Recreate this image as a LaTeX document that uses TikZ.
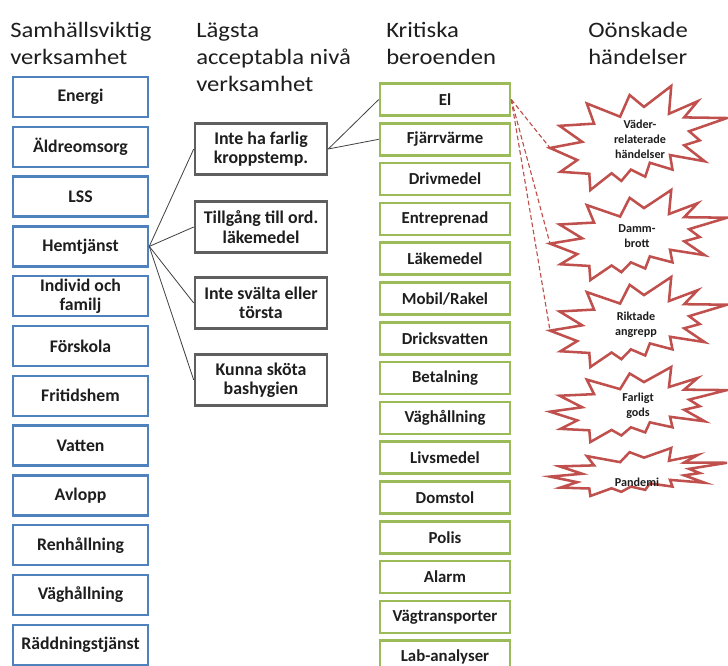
\documentclass[tikz,border=0pt]{standalone}
\usepackage{fontspec}
\setmainfont{Carlito}
\newfontfamily\headfont[FakeStretch=1.12]{Carlito}
\definecolor{boxblue}{RGB}{79,129,189}
\definecolor{boxgreen}{RGB}{155,187,89}
\definecolor{boxgray}{RGB}{95,95,95}
\definecolor{starred}{RGB}{192,80,77}
\definecolor{inktext}{RGB}{30,30,30}
\tikzset{
  headtext/.style={anchor=base west, inner sep=0pt, align=left, text=inktext,
    font=\headfont\fontsize{16.5}{20.25}\selectfont},
  boxbase/.style={fill=white, line width=1.9pt, inner sep=1pt, align=center, text=inktext},
  bluebox/.style={boxbase, draw=boxblue, minimum width=135*0.75pt, minimum height=40*0.75pt,
    font=\bfseries\fontsize{13.3}{14.6}\selectfont},
  graybox/.style={boxbase, draw=boxgray, minimum width=132*0.75pt, minimum height=51*0.75pt,
    font=\bfseries\fontsize{13.4}{14.6}\selectfont},
  greenbox/.style={boxbase, draw=boxgreen, minimum width=130*0.75pt, minimum height=32*0.75pt,
    font=\bfseries\fontsize{12.6}{14}\selectfont},
  conn/.style={draw=black!75, line width=0.6pt},
  riskconn/.style={draw=starred, line width=0.85pt, dash pattern=on 3.5pt off 2pt},
  starline/.style={draw=starred, line width=1.9pt, fill=white, line join=miter},
  startext/.style={inner sep=0pt, align=center, text=inktext,
    font=\bfseries\fontsize{9.1}{11.4}\selectfont},
}
\newcommand\explosionshape[5]{%
  \begin{scope}[shift={(#2,#3)}, x={(#4*0.75pt,0pt)}, y={(0pt,-#5*0.75pt)}]
    \draw[starline] (.531,.201) -- (.685,0) -- (.672,.267) -- (.834,.147) -- (.758,.302)
      -- (1,.308) -- (.786,.435) -- (.846,.523) -- (.758,.570) -- (.874,.724)
      -- (.678,.664) -- (.692,.804) -- (.564,.738) -- (.538,.872) -- (.457,.804)
      -- (.403,.913) -- (.348,.839) -- (.228,1) -- (.222,.844) -- (.059,.825)
      -- (.154,.712) -- (0,.596) -- (.182,.537) -- (.054,.383) -- (.249,.362)
      -- (.208,.168) -- (.396,.295) -- (.450,.087) -- cycle;
    \coordinate (#1L) at (0,.596);
  \end{scope}%
}
\begin{document}
\begin{tikzpicture}[x=0.75pt, y=-0.75pt]
\useasboundingbox (0,0) rectangle (728,666);
\fill[white] (0,0) rectangle (728,666);

% headings (anchor at the baseline of the last line)
\node[headtext] (h1) at (10,65) {Samhällsviktig\\verksamhet};
\node[headtext] (h2) at (196,92) {Lägsta\\acceptabla nivå\\verksamhet};
\node[headtext] (h3) at (386,65) {Kritiska\\beroenden};
\node[headtext] (h4) at (588,65) {Oönskade\\händelser};

% left column
\node[bluebox] (energi) at (80.5,97) {Energi};
\node[bluebox] (aldre) at (80.5,146.8) {Äldreomsorg};
\node[bluebox] (lss) at (80.5,196.6) {LSS};
\node[bluebox] (hem) at (80.5,246.4) {Hemtjänst};
\node[bluebox] (individ) at (80.5,296.2) {Individ och\\familj};
\node[bluebox] (forskola) at (80.5,346) {Förskola};
\node[bluebox] (fritid) at (80.5,395.8) {Fritidshem};
\node[bluebox] (vatten) at (80.5,445.6) {Vatten};
\node[bluebox] (avlopp) at (80.5,495.4) {Avlopp};
\node[bluebox] (renh) at (80.5,545.2) {Renhållning};
\node[bluebox] (vagh) at (80.5,595) {Väghållning};
\node[bluebox] (radd) at (80.5,644.8) {Räddningstjänst};

% middle column
\node[graybox] (m1) at (261,149) {Inte ha farlig\\kroppstemp.};
\node[graybox] (m2) at (261,227) {Tillgång till ord.\\läkemedel};
\node[graybox] (m3) at (261,303) {Inte svälta eller\\törsta};
\node[graybox] (m4) at (261,380) {Kunna sköta\\bashygien};

% dependencies column
\node[greenbox] (el) at (445,99.5) {El};
\node[greenbox] (fjarr) at (445,139.3) {Fjärrvärme};
\node[greenbox] (driv) at (445,179.1) {Drivmedel};
\node[greenbox] (entre) at (445,218.9) {Entreprenad};
\node[greenbox] (lake) at (445,258.7) {Läkemedel};
\node[greenbox] (mobil) at (445,298.5) {Mobil/Rakel};
\node[greenbox] (dricks) at (445,338.3) {Dricksvatten};
\node[greenbox] (betal) at (445,378.1) {Betalning};
\node[greenbox] (vagh2) at (445,417.9) {Väghållning};
\node[greenbox] (livs) at (445,457.7) {Livsmedel};
\node[greenbox] (domstol) at (445,497.5) {Domstol};
\node[greenbox] (polis) at (445,537.3) {Polis};
\node[greenbox] (alarm) at (445,577.1) {Alarm};
\node[greenbox] (vagtr) at (445,616.9) {Vägtransporter};
\node[greenbox] (lab) at (445,656.7) {Lab-analyser};

% events
\explosionshape{s1}{550}{86}{177}{104}
\explosionshape{s2}{550}{190}{177}{90}
\explosionshape{s3}{550}{277}{177}{90}
\explosionshape{s4}{550}{367}{177}{75}
\explosionshape{s5}{550}{448}{177}{48}
\node[startext] (s1) at (640,139) {Väder-\\relaterade\\händelser};
\node[startext] (s2) at (637,236) {Damm-\\brott};
\node[startext] (s3) at (636,325) {Riktade\\angrepp};
\node[startext] (s4) at (638,406) {Farligt\\gods};
\node[startext] (s5) at (637,482) {Pandemi};

% connectors
\draw[conn] (hem.east) -- (m1.west);
\draw[conn] (hem.east) -- (m2.west);
\draw[conn] (hem.east) -- (m3.west);
\draw[conn] (hem.east) -- (m4.west);
\draw[conn] (m1.east) -- (el.west);
\draw[conn] (m1.east) -- (fjarr.west);
\draw[riskconn] (el.east) -- (s1L);
\draw[riskconn] (el.east) -- (s2L);
\draw[riskconn] (el.east) -- (s3L);
\end{tikzpicture}
\end{document}
